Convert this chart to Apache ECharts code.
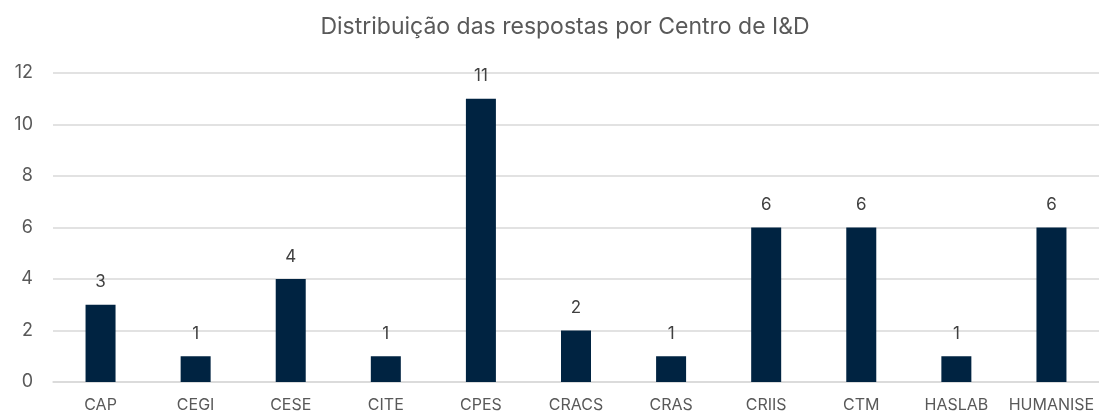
<!DOCTYPE html>
<html><head><meta charset="utf-8">
<script src="https://cdn.jsdelivr.net/npm/echarts@6/dist/echarts.min.js"></script>
<style>html,body{margin:0;padding:0;background:#fff}#c{width:1099px;height:414px}</style>
</head><body><div id="c"></div>
<script>
const categories = ['CAP','CEGI','CESE','CITE','CPES','CRACS','CRAS','CRIIS','CTM','HASLAB','HUMANISE'];
const values = [3,1,4,1,11,2,1,6,6,1,6];
const chart = echarts.init(document.getElementById('c'));
const font = 'Inter, "Open Sans", sans-serif';
chart.setOption({
  animation:false,
  title:{text:'Distribuição das respostas por Centro de I&D',left:560,textAlign:'center',top:11,
    textStyle:{fontFamily:font,fontSize:23,fontWeight:'normal',color:'#595959'}},
  grid:{left:53,right:0,top:73,bottom:32,containLabel:false},
  xAxis:{type:'category',data:categories,
    axisLine:{lineStyle:{color:'#d9d9d9',width:1.5}},axisTick:{show:false},
    axisLabel:{fontFamily:font,fontSize:16,color:'#595959',margin:15,interval:0}},
  yAxis:{type:'value',min:0,max:12,interval:2,
    splitLine:{lineStyle:{color:'#d9d9d9',width:1.5}},axisLine:{show:false},axisTick:{show:false},
    axisLabel:{fontFamily:font,fontSize:18,color:'#595959',margin:20}},
  series:[{type:'bar',data:values,barWidth:30,itemStyle:{color:'#002341'},
    label:{show:true,position:'top',distance:14,fontFamily:font,fontSize:17,color:'#404040'}}]
});
</script></body></html>
